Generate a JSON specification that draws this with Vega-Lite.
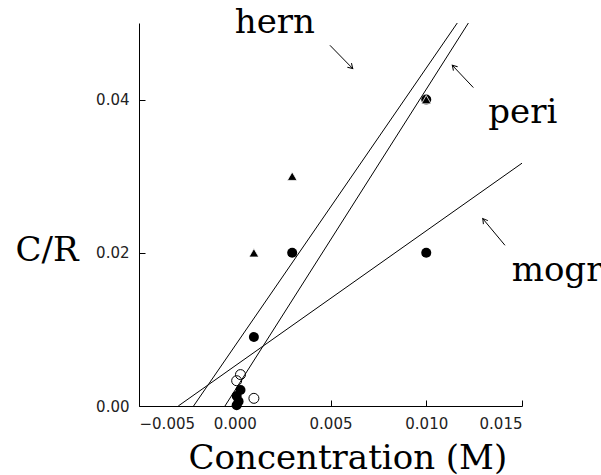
{
  "$schema": "https://vega.github.io/schema/vega-lite/v6.json",
  "width": 383,
  "height": 383,
  "autosize": "none",
  "padding": {"left": 139, "top": 23, "right": 79, "bottom": 69},
  "background": "white",
  "config": {
    "view": {"stroke": null},
    "axis": {
      "grid": false,
      "domainColor": "black",
      "tickColor": "black",
      "tickWidth": 1,
      "labelFont": "DejaVu Sans",
      "labelFontSize": 15,
      "labelColor": "#222",
      "titleFont": "DejaVu Serif",
      "titleFontSize": 34,
      "titleFontWeight": "normal",
      "titleColor": "black"
    }
  },
  "datasets": {
    "pts": [
      {"x": 0.001, "y": 0.009, "kind": "filled"},
      {"x": 0.003, "y": 0.02, "kind": "filled"},
      {"x": 0.010, "y": 0.02, "kind": "filled"},
      {"x": 0.010, "y": 0.04, "kind": "filled"},
      {"x": 0.0003, "y": 0.0021, "kind": "filled"},
      {"x": 0.0001, "y": 0.0013, "kind": "filled"},
      {"x": 0.0002, "y": 0.0006, "kind": "filled"},
      {"x": 0.0001, "y": 0.0001, "kind": "filled"},
      {"x": 0.0003, "y": 0.0041, "kind": "open"},
      {"x": 0.0001, "y": 0.0033, "kind": "open"},
      {"x": 0.001, "y": 0.001, "kind": "open"},
      {"x": 0.001, "y": 0.02, "kind": "triangle"},
      {"x": 0.003, "y": 0.03, "kind": "triangle"},
      {"x": 0.010, "y": 0.04, "kind": "triangle"}
    ],
    "fits": [
      {"name": "hern", "x": -0.00215, "y": 0, "x2": 0.01162, "y2": 0.05},
      {"name": "peri", "x": -0.00051, "y": 0, "x2": 0.0122, "y2": 0.05},
      {"name": "mogr", "x": -0.00295, "y": 0, "x2": 0.015, "y2": 0.0317}
    ],
    "arrows": [
      {"name": "hern", "x": 0.00616, "y": 0.04405, "x2": 0.00497, "y2": 0.04709},
      {"name": "peri", "x": 0.01136, "y": 0.04448, "x2": 0.01246, "y2": 0.04157},
      {"name": "mogr", "x": 0.01295, "y": 0.02446, "x2": 0.01411, "y2": 0.02098}
    ],
    "labels": [
      {"name": "hern", "x": 0.0000, "y": 0.0487},
      {"name": "peri", "x": 0.01324, "y": 0.0370},
      {"name": "mogr", "x": 0.01446, "y": 0.0163}
    ]
  },
  "encoding": {
    "x": {
      "field": "x", "type": "quantitative",
      "scale": {"domain": [-0.005, 0.015], "nice": false, "zero": false},
      "axis": {
        "values": [-0.005, 0, 0.005, 0.01, 0.015],
        "format": ".3f",
        "tickSize": -6,
        "labelPadding": 16,
        "labelFontSize": 15,
        "title": "Concentration (M)",
        "titleAlign": "left",
        "titleAnchor": "start",
        "titleBaseline": "alphabetic",
        "titleX": 49,
        "titleY": 62
      }
    },
    "y": {
      "field": "y", "type": "quantitative",
      "scale": {"domain": [0, 0.05], "nice": false},
      "axis": {
        "values": [0, 0.02, 0.04],
        "format": ".2f",
        "tickSize": -6,
        "labelPadding": 16,
        "labelFontSize": 15,
        "title": "C/R",
        "titleAngle": 0,
        "titleAlign": "left",
        "titleBaseline": "alphabetic",
        "titleX": -124,
        "titleY": 237
      }
    }
  },
  "layer": [
    {
      "data": {"name": "fits"},
      "mark": {"type": "rule", "color": "black", "strokeWidth": 1},
      "encoding": {"x2": {"field": "x2"}, "y2": {"field": "y2"}}
    },
    {
      "data": {"name": "arrows"},
      "mark": {"type": "rule", "color": "black", "strokeWidth": 1},
      "encoding": {"x2": {"field": "x2"}, "y2": {"field": "y2"}}
    },
    {
      "data": {"name": "arrows"},
      "transform": [{"filter": "datum.name === 'hern'"}],
      "mark": {"type": "point", "shape": "M -1 -0.6 L 0 0 L -1 0.6", "filled": false, "color": "black", "strokeWidth": 1, "size": 90, "angle": 46, "opacity": 1}
    },
    {
      "data": {"name": "arrows"},
      "transform": [{"filter": "datum.name === 'peri'"}],
      "mark": {"type": "point", "shape": "M -1 -0.6 L 0 0 L -1 0.6", "filled": false, "color": "black", "strokeWidth": 1, "size": 90, "angle": 227, "opacity": 1}
    },
    {
      "data": {"name": "arrows"},
      "transform": [{"filter": "datum.name === 'mogr'"}],
      "mark": {"type": "point", "shape": "M -1 -0.6 L 0 0 L -1 0.6", "filled": false, "color": "black", "strokeWidth": 1, "size": 90, "angle": 232, "opacity": 1}
    },
    {
      "data": {"name": "pts"},
      "transform": [{"filter": "datum.kind === 'open'"}],
      "mark": {"type": "point", "shape": "circle", "filled": false, "color": "black", "strokeWidth": 1, "size": 100, "opacity": 1}
    },
    {
      "data": {"name": "pts"},
      "transform": [{"filter": "datum.kind === 'filled'"}],
      "mark": {"type": "point", "shape": "circle", "filled": true, "color": "black", "size": 100, "opacity": 1}
    },
    {
      "data": {"name": "pts"},
      "transform": [{"filter": "datum.kind === 'triangle'"}],
      "mark": {"type": "point", "shape": "triangle-up", "filled": true, "fill": "black", "stroke": "white", "strokeWidth": 0.8, "size": 95, "opacity": 1}
    },
    {
      "data": {"name": "labels"},
      "mark": {"type": "text", "font": "DejaVu Serif", "fontSize": 34, "align": "left", "baseline": "alphabetic", "color": "black"},
      "encoding": {"text": {"field": "name"}}
    }
  ]
}
